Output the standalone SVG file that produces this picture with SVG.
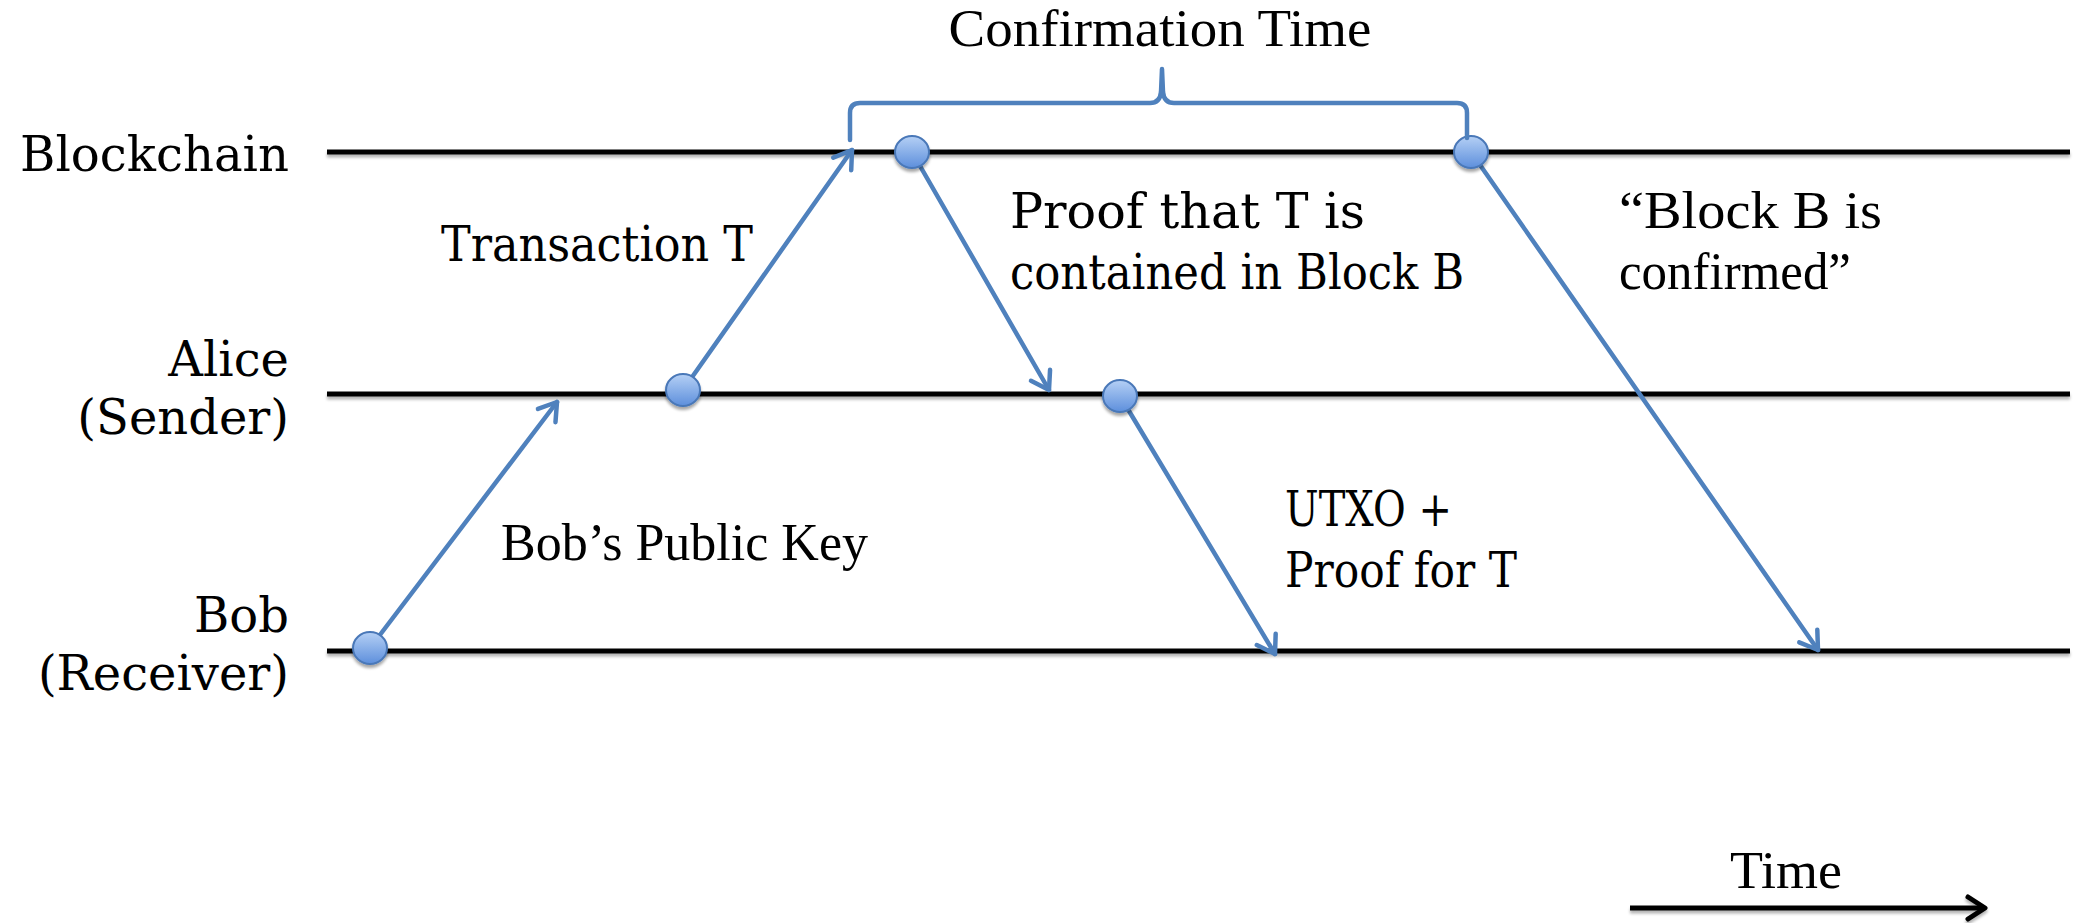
<svg xmlns="http://www.w3.org/2000/svg" width="2078" height="923" viewBox="0 0 2078 923">
  <defs>
    <style>
      .school { font-family: "DejaVu Serif", "Liberation Serif", serif; font-size: 48px; fill: #000; }
      .times { font-family: "Liberation Serif", "Times New Roman", serif; font-size: 52px; fill: #000; }
      .lane { stroke: #000; stroke-width: 5; fill: none; filter: url(#lineShadow); }
      .msg { stroke: #4f81bd; stroke-width: 4.5; fill: none; stroke-linecap: round; marker-end: url(#blueHead); }
      .event { fill: url(#ball); stroke: #4a78b8; stroke-width: 2; filter: url(#shadow); }
      .brace { stroke: #4f81bd; stroke-width: 4.5; fill: none; stroke-linejoin: round; stroke-linecap: round; }
    </style>
    <linearGradient id="ball" x1="0" y1="0" x2="0" y2="1">
      <stop offset="0" stop-color="#b5d0f5"/>
      <stop offset="1" stop-color="#5d8fdc"/>
    </linearGradient>
    <filter id="shadow" x="-30%" y="-30%" width="160%" height="170%">
      <feGaussianBlur in="SourceAlpha" stdDeviation="1.5"/>
      <feOffset dx="0" dy="3" result="off"/>
      <feComponentTransfer><feFuncA type="linear" slope="0.35"/></feComponentTransfer>
      <feMerge><feMergeNode/><feMergeNode in="SourceGraphic"/></feMerge>
    </filter>
    <!-- zero-height lines need a filter region in user space -->
    <filter id="lineShadow" filterUnits="userSpaceOnUse" x="0" y="0" width="2078" height="923">
      <feGaussianBlur in="SourceAlpha" stdDeviation="1.5"/>
      <feOffset dx="0" dy="3" result="off"/>
      <feComponentTransfer><feFuncA type="linear" slope="0.3"/></feComponentTransfer>
      <feMerge><feMergeNode/><feMergeNode in="SourceGraphic"/></feMerge>
    </filter>
    <marker id="blueHead" markerUnits="userSpaceOnUse" viewBox="-22 -14 26 28" refX="0" refY="0" markerWidth="26" markerHeight="28" orient="auto" overflow="visible">
      <path d="M-17,-11 L0,0 L-17,11" fill="none" stroke="#4f81bd" stroke-width="4.5" stroke-linecap="round" stroke-linejoin="round"/>
    </marker>
    <marker id="blackHead" markerUnits="userSpaceOnUse" viewBox="-22 -14 26 28" refX="0" refY="0" markerWidth="26" markerHeight="28" orient="auto" overflow="visible">
      <path d="M-17,-11 L0,0 L-17,11" fill="none" stroke="#000" stroke-width="5" stroke-linecap="round" stroke-linejoin="round"/>
    </marker>
  </defs>

  <rect width="2078" height="923" fill="#fff"/>

  <!-- participant timelines -->
  <g id="blockchain">
    <line class="lane" x1="327" y1="152" x2="2070" y2="152"/>
    <text class="school" x="289" y="171" text-anchor="end" textLength="269" lengthAdjust="spacingAndGlyphs">Blockchain</text>
  </g>
  <g id="alice">
    <line class="lane" x1="327" y1="394" x2="2070" y2="394"/>
    <text class="school" x="289" y="376" text-anchor="end">Alice</text>
    <text class="school" x="289" y="434" text-anchor="end">(Sender)</text>
  </g>
  <g id="bob">
    <line class="lane" x1="327" y1="651" x2="2070" y2="651"/>
    <text class="school" x="289" y="632" text-anchor="end">Bob</text>
    <text class="school" x="289" y="690" text-anchor="end">(Receiver)</text>
  </g>

  <!-- messages between participants -->
  <g id="connectors">
    <line class="msg" x1="370" y1="648" x2="557" y2="402"/>
    <line class="msg" x1="683" y1="390" x2="852" y2="150"/>
    <line class="msg" x1="912" y1="152" x2="1049" y2="390"/>
    <line class="msg" x1="1120" y1="396" x2="1275" y2="654"/>
    <line class="msg" x1="1471" y1="152" x2="1818" y2="650"/>
  </g>

  <!-- events on the timelines -->
  <g id="ev-bob-key"><ellipse class="event" cx="370" cy="648" rx="17" ry="16"/></g>
  <g id="ev-alice-tx"><ellipse class="event" cx="683" cy="390" rx="17" ry="16"/></g>
  <g id="ev-chain-include"><ellipse class="event" cx="912" cy="152" rx="17" ry="16"/></g>
  <g id="ev-alice-proof"><ellipse class="event" cx="1120" cy="396" rx="17" ry="16"/></g>
  <g id="ev-chain-confirm"><ellipse class="event" cx="1471" cy="152" rx="17" ry="16"/></g>

  <!-- message labels -->
  <g id="label-key">
    <text class="times" x="501" y="560" textLength="367" lengthAdjust="spacingAndGlyphs">Bob’s Public Key</text>
  </g>
  <g id="label-tx">
    <text class="school" x="441" y="261" textLength="312" lengthAdjust="spacingAndGlyphs">Transaction T</text>
  </g>
  <g id="label-proof">
    <text class="school" x="1010" y="228" textLength="355" lengthAdjust="spacingAndGlyphs">Proof that T is</text>
    <text class="school" x="1010" y="289" textLength="454" lengthAdjust="spacingAndGlyphs">contained in Block B</text>
  </g>
  <g id="label-confirmed">
    <text class="times" x="1619" y="228" textLength="263" lengthAdjust="spacingAndGlyphs">“Block B is</text>
    <text class="times" x="1619" y="289" textLength="232" lengthAdjust="spacingAndGlyphs">confirmed”</text>
  </g>
  <g id="label-utxo">
    <text class="school" x="1285" y="526" textLength="167" lengthAdjust="spacingAndGlyphs">UTXO +</text>
    <text class="school" x="1285" y="587" textLength="232" lengthAdjust="spacingAndGlyphs">Proof for T</text>
  </g>

  <!-- confirmation interval brace -->
  <g id="confirmation-time">
    <path class="brace" d="M850,140 L850,113 Q850,103 860,103 L1150,103 Q1160,103 1161,92 L1162,69 L1163,92 Q1164,103 1174,103 L1457,103 Q1467,103 1467,113 L1467,138"/>
    <text class="times" x="1160" y="46" text-anchor="middle" textLength="423" lengthAdjust="spacingAndGlyphs">Confirmation Time</text>
  </g>

  <!-- time axis -->
  <g id="time-axis">
    <line x1="1630" y1="908" x2="1985" y2="908" stroke="#000" stroke-width="5" marker-end="url(#blackHead)" filter="url(#lineShadow)"/>
    <text class="times" x="1786" y="888" text-anchor="middle" textLength="112" lengthAdjust="spacingAndGlyphs">Time</text>
  </g>
</svg>
